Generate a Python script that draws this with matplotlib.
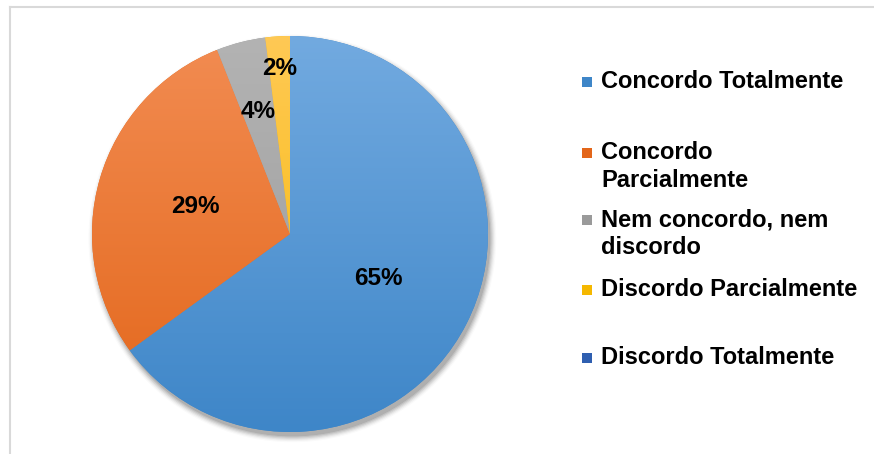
import numpy as np
import matplotlib.pyplot as plt
from matplotlib.colors import LinearSegmentedColormap
from matplotlib.lines import Line2D
from matplotlib.patches import Circle, Rectangle

# ----------------- Data -----------------
categorias = ['Concordo Totalmente', 'Concordo\nParcialmente',
              'Nem concordo, nem\ndiscordo', 'Discordo Parcialmente',
              'Discordo Totalmente']
percentuais = [65, 29, 4, 2, 0]
# cor clara (topo) e escura (base) de cada fatia
cores_topo = ['#72aae0', '#f28c52', '#b3b3b3', '#ffc955', '#4a78c8']
cores_base = ['#3e86c8', '#e3661a', '#9a9a9a', '#f5b800', '#2f5fb0']
# distancia do rotulo ao centro (fração do raio)
dist_rotulo = [0.5, 0.5, 0.64, 0.84, 0.5]

W, H = 874, 454
fig = plt.figure(figsize=(W / 100, H / 100), dpi=100)
fig.patch.set_facecolor('white')

# moldura clara (so topo e esquerda aparecem)
fig.add_artist(Line2D([10 / W, 1], [1 - 7 / H, 1 - 7 / H], color='#d9d9d9', lw=1.5))
fig.add_artist(Line2D([10 / W, 10 / W], [0, 1 - 7 / H], color='#d9d9d9', lw=1.5))

ax = fig.add_axes([92 / W, 22 / H, 396 / W, 396 / H])

wedges, _ = ax.pie(percentuais, startangle=90, counterclock=False, radius=1.0,
                   colors=cores_base, wedgeprops=dict(linewidth=0))

# sombra suave embaixo da pizza
for i, a in enumerate(np.linspace(0.10, 0.02, 6)):
    sombra = Circle((0.012, -0.022), 1.0 + 0.006 * i, color='black',
                    alpha=a, lw=0, zorder=0, clip_on=False)
    ax.add_patch(sombra)

# preenchimento em degrade vertical
grad = np.linspace(1, 0, 256).reshape(-1, 1)
for w, c1, c2 in zip(wedges, cores_topo, cores_base):
    cmap = LinearSegmentedColormap.from_list('g', [c2, c1])
    im = ax.imshow(grad, cmap=cmap, extent=(-1, 1, -1, 1), aspect='auto',
                   vmin=0, vmax=1, zorder=2)
    im.set_clip_path(w)

# pie() e imshow() redefinem os limites, entao ajusta no fim
ax.set_xlim(-1.0, 1.0)
ax.set_ylim(-1.0, 1.0)
ax.set_aspect('equal')
ax.axis('off')

# rotulos de porcentagem
for w, p, d in zip(wedges, percentuais, dist_rotulo):
    if p == 0:
        continue
    ang = np.deg2rad((w.theta1 + w.theta2) / 2)
    ax.text(d * np.cos(ang), d * np.sin(ang), f'{p}%', ha='center', va='center',
            fontsize=17.5, fontweight='bold', family='Liberation Sans', zorder=5)

# legenda manual
leg_y = [82, 166.5, 233.5, 290, 358]
for nome, cor, y in zip(categorias, cores_base, leg_y):
    n = nome.count('\n') + 1
    sq_y = y - (n - 1) * 13.5
    fig.add_artist(Rectangle((582 / W, 1 - (sq_y + 5) / H), 10 / W, 10 / H,
                             facecolor=cor, edgecolor='none'))
    fig.text(601 / W, 1 - y / H, nome, ha='left', va='center', fontsize=17,
             fontweight='bold', family='Liberation Sans', linespacing=1.25)

fig.savefig('out.png', dpi=100)
